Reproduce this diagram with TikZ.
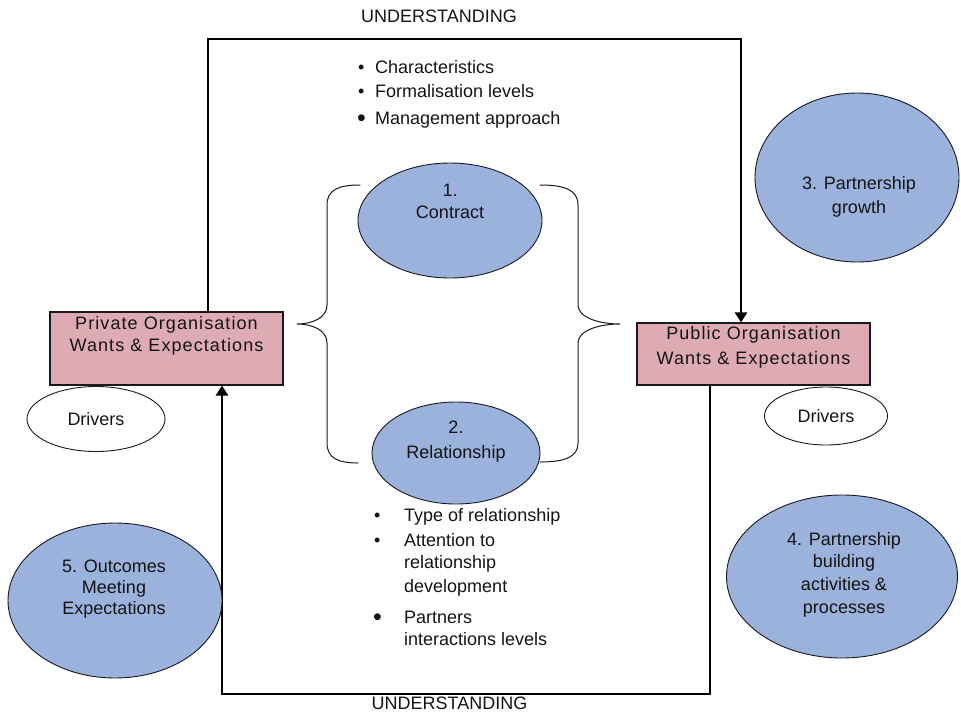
\documentclass[tikz,border=0pt]{standalone}
\usepackage{fontspec}
\setmainfont{Liberation Sans}
\newfontfamily\wideface[LetterSpace=6]{Liberation Sans}
\usetikzlibrary{shapes.geometric,arrows.meta}
\definecolor{ovalblue}{RGB}{154,178,220}
\definecolor{boxpink}{RGB}{222,170,180}
\definecolor{inkline}{RGB}{25,25,30}
% centred and left-aligned stacks of lines
\newcommand\cstack[1]{\begin{tabular}[t]{@{}c@{}}#1\end{tabular}}
\newcommand\lstack[1]{\begin{tabular}[t]{@{}l@{}}#1\end{tabular}}
% bullet items: width of bullet column, bullet glyph, text
\newcommand\smallbul{\textbullet}
\newcommand\bigbul{\raisebox{-1.6pt}{\fontsize{25}{25}\selectfont\textbullet}}
\newcommand\bitem[3]{\makebox[#1][l]{#2}\lstack{#3}}
\begin{document}
\begin{tikzpicture}[x=1pt,y=-1pt,
  every node/.style={font=\fontsize{18}{22}\selectfont, inner sep=0pt, text=black!92},
  oval/.style={ellipse, draw=inkline, line width=0.9pt, fill=ovalblue},
  driver/.style={ellipse, draw=inkline, line width=0.9pt, fill=white},
  orgbox/.style={rectangle, draw=inkline, line width=1.1pt, fill=boxpink},
  orgtext/.style={font=\wideface\fontsize{18}{22}\selectfont},
  frame/.style={draw=black, line width=1.4pt},
  flow/.style={draw=black, line width=2.6pt, -{Triangle[width=12pt,length=10pt]}},
  bracket/.style={draw=inkline, line width=1pt, line cap=round},
]
\useasboundingbox (0,0) rectangle (961,715);

% ---- outer loop corners ----
\coordinate (tl) at (208,39);
\coordinate (tr) at (741,39);
\coordinate (rs) at (741,280);
\coordinate (br) at (710,694);
\coordinate (bl) at (222,694);
\coordinate (ls) at (222,540);

% ---- organisation boxes ----
\node[orgbox, minimum width=233pt, minimum height=73pt] (priv) at (166.5,348.5) {};
\node[orgtext, anchor=base] (privT) at (166.5,329.5)
  {\cstack{Private Organisation\\Wants \& Expectations}};
\node[orgbox, minimum width=233pt, minimum height=62pt] (pub) at (753.5,354) {};
\node[orgtext, anchor=base] (pubT) at (753.5,339.5)
  {\cstack{Public Organisation\\[3pt]Wants \& Expectations}};

% ---- drivers ----
\node[driver, minimum width=138pt, minimum height=65pt] (drvL) at (96,419) {Drivers};
\node[driver, minimum width=123pt, minimum height=58pt] (drvR) at (826,416) {Drivers};

% ---- the loop of understanding ----
\draw[frame] (tl |- priv.north) -- (tl) -- (tr) -- (rs);
\draw[flow] (rs) -- (tr |- pub.north);
\draw[frame] (br |- pub.south) -- (br) -- (bl) -- (ls);
\draw[flow] (ls) -- (bl |- priv.south);

\node[anchor=base] (undTop) at (439,22.5) {UNDERSTANDING};
\node[anchor=base] (undBot) at (449.5,709.5) {UNDERSTANDING};

% ---- contract and relationship ----
\node[oval, minimum width=184pt, minimum height=115pt] (contract) at (450,220.5) {};
\node[anchor=base] (contractT) at (450,196.5) {\cstack{1.\\Contract}};
\node[oval, minimum width=168pt, minimum height=102pt] (relation) at (456,453) {};
\node[anchor=base] (relationT) at (456,433.5) {\cstack{2.\\[3pt]Relationship}};

% ---- brackets joining both to the organisations ----
\draw[bracket] (360,185) .. controls (338,185) and (327,190) .. (327,205)
  -- (327,305) .. controls (327,318) and (312,324) .. (297,324)
  .. controls (312,324) and (327,330) .. (327,343)
  -- (327,443) .. controls (327,458) and (338,463) .. (358,463);
\draw[bracket] (540,185) .. controls (565,185) and (578,190) .. (578,205)
  -- (578,305) .. controls (578,318) and (600,324) .. (620,324)
  .. controls (600,324) and (578,330) .. (578,343)
  -- (578,443) .. controls (578,457) and (565,462) .. (540,462);

% ---- contract features ----
\node[anchor=base west] (c1) at (358,73.5) {\bitem{17pt}{\smallbul}{Characteristics}};
\node[anchor=base west] (c2) at (358,97.5) {\bitem{17pt}{\smallbul}{Formalisation levels}};
\node[anchor=base west] (c3) at (357,124.5) {\bitem{18pt}{\bigbul}{Management approach}};

% ---- relationship features ----
\node[anchor=base west] (r1) at (374,521.5) {\bitem{30pt}{\smallbul}{Type of relationship}};
\node[anchor=base west] (r2) at (374,546.5)
  {\bitem{30pt}{\smallbul}{Attention to\\relationship\\[2pt]development}};
\node[anchor=base west] (r3) at (373,623.5)
  {\bitem{31pt}{\bigbul}{Partners\\interactions levels}};

% ---- partnership stages ----
\node[oval, minimum width=204pt, minimum height=169pt] (growth) at (857,177.5) {};
\node[anchor=base] (growthT) at (859,189.5) {\cstack{3. Partnership\\[2pt]growth}};
\node[oval, minimum width=231pt, minimum height=163pt] (building) at (842,576.5) {};
\node[anchor=base] (buildingT) at (844,545.5)
  {\cstack{4. Partnership\\building\\[1pt]activities \&\\[1pt]processes}};
\node[oval, minimum width=214pt, minimum height=155pt] (outcomes) at (115,600.5) {};
\node[anchor=base] (outcomesT) at (114,572.5)
  {\cstack{5. Outcomes\\[-1pt]Meeting\\[-1pt]Expectations}};
\end{tikzpicture}
\end{document}
